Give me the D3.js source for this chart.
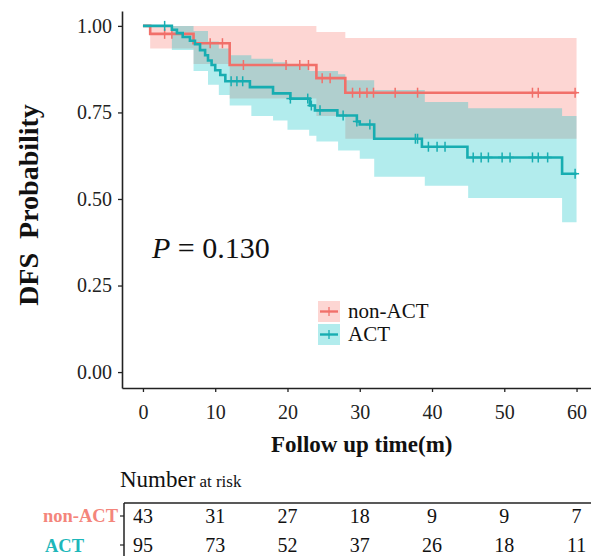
<!DOCTYPE html>
<html><head><meta charset="utf-8">
<script src="https://cdn.jsdelivr.net/npm/d3@7"></script>
<style>
body{margin:0;background:#fff;}
svg{display:block;font-family:"Liberation Serif","Times New Roman",serif;}
</style></head>
<body><svg id="c" width="591" height="556"></svg>
<script>
// ---- data ----
const groups = ["non-ACT","ACT"];
const redTimes  = [0, 1, 7, 12, 24, 28];
const redSurv   = [1, 0.977, 0.95, 0.887, 0.849, 0.807];
const redCiTimes = [0, 1, 7, 12, 24, 28];
const redUpper  = [1, 1, 1, 1, 0.982, 0.965];
const redLower  = [1, 0.935, 0.89, 0.79, 0.74, 0.674];
const redCensor = [3, 4, 9.3, 11, 13.9, 19.8, 21.7, 22.9, 24.8, 25.9, 29, 30, 31, 31.9, 34.9, 38, 53.9, 54.7, 59.8];

const actTimes = [0, 4, 4.7, 5.5, 6.5, 7.2, 7.9, 8.6, 9, 9.5, 10, 10.7, 11.4, 14.8, 18, 20.4, 23.1, 23.8, 26.9, 29.6, 30, 32, 38.6, 44.9, 58];
const actSurv  = [1, 0.989, 0.979, 0.968, 0.957, 0.947, 0.93, 0.915, 0.9, 0.887, 0.872, 0.858, 0.84, 0.823, 0.805, 0.79, 0.77, 0.756, 0.741, 0.724, 0.715, 0.674, 0.651, 0.62, 0.573];
const actCiTimes = [0, 4, 7, 9, 10.5, 12, 15, 18, 20, 23, 24, 27, 28, 30, 32, 39, 45, 58];
const actUpper = [1, 1, 0.985, 0.955, 0.935, 0.915, 0.905, 0.895, 0.885, 0.87, 0.87, 0.86, 0.843, 0.843, 0.815, 0.78, 0.762, 0.74];
const actLower = [1, 0.93, 0.87, 0.83, 0.80, 0.77, 0.74, 0.727, 0.70, 0.683, 0.666, 0.64, 0.64, 0.616, 0.564, 0.538, 0.503, 0.433];
const actCensor = [3, 12.2, 13, 13.8, 20.4, 22.8, 23.3, 24.5, 27.7, 29.6, 31.4, 37.7, 38, 39.5, 40.7, 41.8, 45.7, 46.8, 47.8, 49.7, 50.8, 53.9, 54.7, 56, 59.8];

const xTicks = [0, 10, 20, 30, 40, 50, 60];
const yTicks = [0, 0.25, 0.5, 0.75, 1];
const riskNonACT = [43, 31, 27, 18, 9, 9, 7];
const riskACT    = [95, 73, 52, 37, 26, 18, 11];
const pText = "0.130";
const tEnd = 60;

// ---- styles ----
const RED = "#F1706A", TEAL = "#17ADB1";
const RED_FILL = "#F8766D", TEAL_FILL = "#00BFC4";
const RED_LAB = "#F4857B", TEAL_LAB = "#1DB7BA";

const svg = d3.select("#c");
const x = d3.scaleLinear().domain([-2.9, 62]).range([122, 591]);
const y = d3.scaleLinear().domain([-0.046, 1.043]).range([388, 11]);

function stepPts(times, vals){
  const p = times.map((t,i)=>[t, vals[i]]);
  p.push([tEnd, vals[vals.length-1]]);
  return p;
}
function ciPts(times, lo, up){
  const p = times.map((t,i)=>({t, lo:lo[i], up:up[i]}));
  p.push({t:tEnd, lo:lo[lo.length-1], up:up[up.length-1]});
  return p;
}
function survAt(times, vals, t){
  let v = vals[0];
  for(let i=0;i<times.length;i++){ if(times[i] <= t) v = vals[i]; }
  return v;
}
const area = d3.area().curve(d3.curveStepAfter)
  .x(d=>x(d.t)).y0(d=>y(d.lo)).y1(d=>y(d.up));
const line = d3.line().curve(d3.curveStepAfter).x(d=>x(d[0])).y(d=>y(d[1]));

const series = [
  {times:redTimes, surv:redSurv, ciT:redCiTimes, lo:redLower, up:redUpper, cens:redCensor, col:RED, fill:RED_FILL},
  {times:actTimes, surv:actSurv, ciT:actCiTimes, lo:actLower, up:actUpper, cens:actCensor, col:TEAL, fill:TEAL_FILL}
];

series.forEach(s=>{
  svg.append("path").attr("d", area(ciPts(s.ciT, s.lo, s.up)))
    .attr("fill", s.fill).attr("fill-opacity", 0.3).attr("stroke","none");
});
series.forEach(s=>{
  svg.append("path").attr("d", line(stepPts(s.times, s.surv)))
    .attr("fill","none").attr("stroke", s.col).attr("stroke-width", 2.6);
  const g = svg.append("g").attr("stroke", s.col).attr("stroke-width", 1.5);
  s.cens.forEach(t=>{
    const cx = x(t), cy = y(survAt(s.times, s.surv, t));
    g.append("line").attr("x1",cx).attr("x2",cx).attr("y1",cy-5).attr("y2",cy+5);
    g.append("line").attr("x1",cx-4).attr("x2",cx+4).attr("y1",cy).attr("y2",cy);
  });
});

// axes
const yAxis = d3.axisLeft(y).tickValues(yTicks).tickFormat(d3.format(".2f")).tickSize(4).tickPadding(6).tickSizeOuter(0);
const gy = svg.append("g").attr("transform","translate(122,0)").call(yAxis);
const xAxis = d3.axisBottom(x).tickValues(xTicks).tickSize(4).tickPadding(13).tickSizeOuter(0);
const gx = svg.append("g").attr("transform","translate(0,388)").call(xAxis);
[gy, gx].forEach(g=>{
  g.selectAll("path.domain").attr("stroke","#222").attr("stroke-width",1.6);
  g.selectAll(".tick line").attr("stroke","#222").attr("stroke-width",1.3);
  g.selectAll("text").attr("font-family","Liberation Serif, serif").attr("font-size",20).attr("fill","#222");
});

// titles
svg.append("text").attr("x", x(30)+2).attr("y", 452).attr("text-anchor","middle")
  .attr("font-size", 23).attr("font-weight","bold").attr("fill","#111").text("Follow up time(m)");
svg.append("text").attr("transform","translate(38,205) rotate(-90)").attr("text-anchor","middle")
  .attr("font-size", 28).attr("font-weight","bold").attr("fill","#111")
  .style("white-space","pre").text("DFS  Probability");

// P value
const pt = svg.append("text").attr("x", 152).attr("y", 258).attr("font-size", 30).attr("fill","#111");
pt.append("tspan").attr("font-style","italic").text("P");
pt.append("tspan").text(" = " + pText);

// legend
const legY = [301, 324];
series.forEach((s,i)=>{
  const ly = legY[i];
  svg.append("rect").attr("x",318).attr("y",ly).attr("width",22).attr("height",21)
    .attr("fill", s.fill).attr("fill-opacity",0.3);
  svg.append("line").attr("x1",320).attr("x2",338).attr("y1",ly+10.5).attr("y2",ly+10.5)
    .attr("stroke", s.col).attr("stroke-width",2.4);
  svg.append("line").attr("x1",329).attr("x2",329).attr("y1",ly+6).attr("y2",ly+15)
    .attr("stroke", s.col).attr("stroke-width",1.3);
  svg.append("text").attr("x",348).attr("y", ly+17).attr("font-size",21).attr("fill","#111").text(groups[i]);
});

// number at risk
const nr = svg.append("text").attr("x",120).attr("y",487).attr("fill","#111");
nr.append("tspan").attr("font-size",23).text("Number");
nr.append("tspan").attr("font-size",17).attr("dx",4).text("at risk");

svg.append("line").attr("x1",124).attr("x2",591).attr("y1",503).attr("y2",503).attr("stroke","#222").attr("stroke-width",1.5);
svg.append("line").attr("x1",124).attr("x2",124).attr("y1",503).attr("y2",556).attr("stroke","#222").attr("stroke-width",1.5);
const rowY = [516, 545];
const risks = [riskNonACT, riskACT];
rowY.forEach((ry,i)=>{
  svg.append("line").attr("x1",120).attr("x2",124).attr("y1",ry).attr("y2",ry).attr("stroke","#222").attr("stroke-width",1.2);
  svg.selectAll(null).data(risks[i]).enter().append("text")
    .attr("x",(d,j)=>x(xTicks[j])).attr("y", ry+7).attr("text-anchor","middle")
    .attr("font-size",20).attr("fill","#111").text(d=>d);
});
svg.append("text").attr("x",118).attr("y",rowY[0]+6).attr("text-anchor","end")
  .attr("font-size",18.5).attr("font-weight","bold").attr("fill",RED_LAB).text(groups[0]);
svg.append("text").attr("x",45).attr("y",rowY[1]+7).attr("text-anchor","start")
  .attr("font-size",18.5).attr("font-weight","bold").attr("fill",TEAL_LAB).text(groups[1]);
</script></body></html>
